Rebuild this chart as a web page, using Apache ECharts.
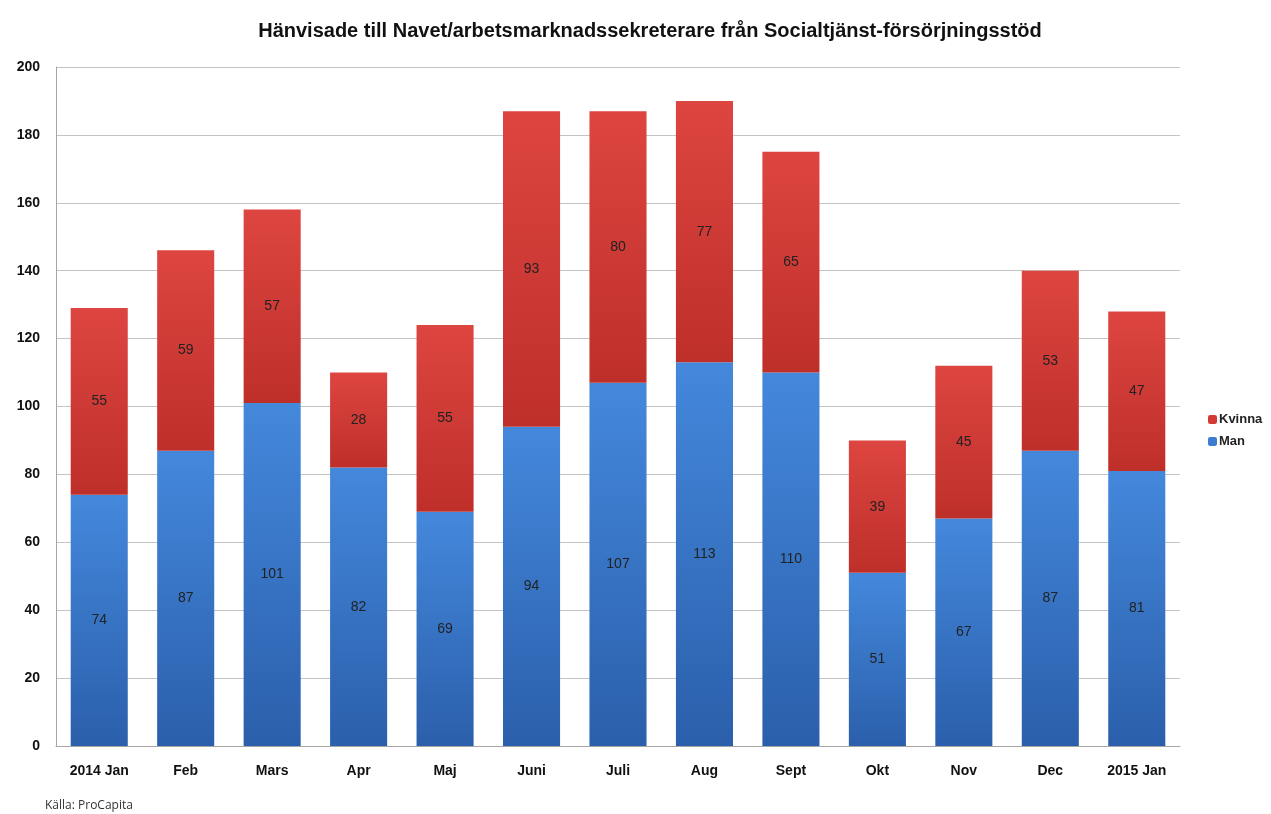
<!DOCTYPE html>
<html>
<head>
<meta charset="utf-8">
<script src="https://cdn.jsdelivr.net/npm/echarts@6/dist/echarts.min.js"></script>
<style>
html, body { margin: 0; padding: 0; background: #fff; }
#chart { width: 1271px; height: 814px; }
</style>
</head>
<body>
<div id="chart"></div>
<script>
const months = ['2014 Jan', 'Feb', 'Mars', 'Apr', 'Maj', 'Juni', 'Juli', 'Aug', 'Sept', 'Okt', 'Nov', 'Dec', '2015 Jan'];
const man = [74, 87, 101, 82, 69, 94, 107, 113, 110, 51, 67, 87, 81];
const kvinna = [55, 59, 57, 28, 55, 93, 80, 77, 65, 39, 45, 53, 47];

const myChart = echarts.init(document.getElementById('chart'));

const labelStyle = {
    show: true,
    position: 'inside',
    color: '#222',
    fontSize: 14,
    fontFamily: 'Liberation Sans, Arial'
};

const option = {
    animation: false,
    title: [{
        text: 'Hänvisade till Navet/arbetsmarknadssekreterare från Socialtjänst-försörjningsstöd',
        left: 645,
        textAlign: 'center',
        top: 16,
        textStyle: {
            fontFamily: 'Liberation Sans, Arial',
            fontWeight: 'bold',
            fontSize: 20,
            color: '#111'
        }
    }, {
        text: 'Källa: ProCapita',
        left: 40,
        top: 795,
        textStyle: {
            fontFamily: 'Open Sans, Liberation Sans',
            fontWeight: 'normal',
            fontSize: 12,
            color: '#333'
        }
    }],
    legend: {
        orient: 'vertical',
        left: 1203,
        top: 408,
        itemWidth: 9,
        itemHeight: 9,
        itemGap: 9,
        itemStyle: { borderWidth: 0 },
        data: [
            { name: 'Kvinna', itemStyle: { color: '#d23a33' } },
            { name: 'Man', itemStyle: { color: '#3b7bd1' } }
        ],
        textStyle: {
            fontFamily: 'Liberation Sans, Arial',
            fontWeight: 'bold',
            fontSize: 13,
            color: '#222',
            padding: [0, 0, 0, -3]
        }
    },
    grid: {
        left: 56,
        right: 91,
        top: 67,
        bottom: 68,
        containLabel: false
    },
    xAxis: {
        type: 'category',
        data: months,
        axisTick: { show: false },
        axisLine: { lineStyle: { color: '#a6a6a6' } },
        axisLabel: {
            color: '#111',
            fontWeight: 'bold',
            fontSize: 14,
            fontFamily: 'Liberation Sans, Arial',
            margin: 18
        }
    },
    yAxis: {
        type: 'value',
        min: 0,
        max: 200,
        interval: 20,
        axisLine: { show: true, lineStyle: { color: '#a6a6a6' } },
        axisTick: { show: false },
        splitLine: { lineStyle: { color: '#c4c4c4', width: 1 } },
        axisLabel: {
            color: '#111',
            fontWeight: 'bold',
            fontSize: 14,
            fontFamily: 'Liberation Sans, Arial',
            margin: 16
        }
    },
    series: [{
        name: 'Man',
        type: 'bar',
        stack: 'total',
        barWidth: '66%',
        data: man,
        label: labelStyle,
        itemStyle: {
            color: new echarts.graphic.LinearGradient(0, 0, 0, 1, [
                { offset: 0, color: '#4488dc' },
                { offset: 1, color: '#2b5fab' }
            ])
        }
    }, {
        name: 'Kvinna',
        type: 'bar',
        stack: 'total',
        barWidth: '66%',
        data: kvinna,
        label: labelStyle,
        itemStyle: {
            color: new echarts.graphic.LinearGradient(0, 0, 0, 1, [
                { offset: 0, color: '#dd4540' },
                { offset: 1, color: '#bf2f2a' }
            ])
        }
    }]
};

myChart.setOption(option);
</script>
</body>
</html>
